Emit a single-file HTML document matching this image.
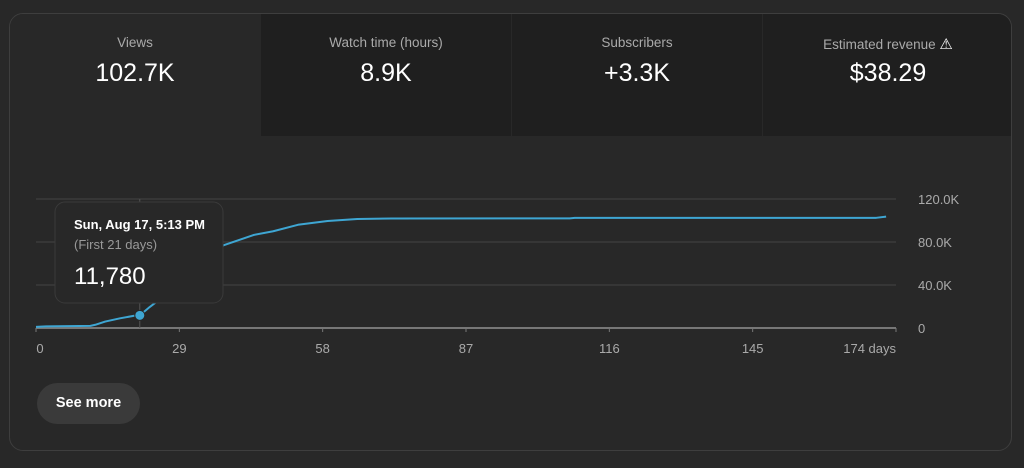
<!DOCTYPE html>
<html><head><meta charset="utf-8">
<style>
html,body{margin:0;padding:0;background:#282828;width:1024px;height:468px;overflow:hidden;font-family:"Liberation Sans",sans-serif;}
#card{position:absolute;left:9px;top:13px;width:1003px;height:438px;border:1px solid #3e3e3e;border-radius:14px;background:#282828;overflow:hidden;box-sizing:border-box;}
.tile{position:absolute;top:0;height:122px;background:#1f1f1f;text-align:center;box-sizing:border-box;}
.tile.sel{background:#282828;}
.lbl{position:absolute;top:21px;left:0;right:0;font-size:13.5px;color:#aaaaaa;}
.val{position:absolute;top:45px;left:0;right:0;font-size:25px;color:#fff;}
#btn{position:absolute;left:27px;top:369px;width:103px;height:41px;border-radius:21px;background:#3a3a3a;color:#fff;font-weight:bold;font-size:14.5px;line-height:41px;text-align:center;}
svg{position:absolute;left:0;top:0;}
</style></head><body>
<div id="card">
  <div class="tile sel" style="left:0;width:250px"><div class="lbl">Views</div><div class="val">102.7K</div></div>
  <div class="tile" style="left:251px;width:250px"><div class="lbl">Watch time (hours)</div><div class="val">8.9K</div></div>
  <div class="tile" style="left:502px;width:250px"><div class="lbl">Subscribers</div><div class="val">+3.3K</div></div>
  <div class="tile" style="left:753px;width:250px"><div class="lbl">Estimated revenue <span style="color:#fff;font-size:15px">⚠</span></div><div class="val">$38.29</div></div>
  <div id="btn">See more</div>
</div>
<svg id="chart" width="1024" height="468"></svg>
<script>
const days=[0,2,11,12,14,17,20,21,23,26,29,32,35,38,44,48,53,59,65,72,108,109,170,172];
const views=[1000,1500,2000,3000,6000,9000,11500,11780,19500,30000,45000,58000,68000,77000,86500,90000,96000,99500,101400,101900,102000,102400,102500,103600];
const yTicks=[0,40000,80000,120000];
const yLabels=["0","40.0K","80.0K","120.0K"];
const xTicks=[0,29,58,87,116,145,174];
const xLabels=["0","29","58","87","116","145","174 days"];
const hoverIndex=7;
const NS="http://www.w3.org/2000/svg";
const svg=document.getElementById('chart');
const x=d=>36+d*(860/174);
const y=v=>328-v*(129/120000);
function mk(t,a){const e=document.createElementNS(NS,t);for(const k in a)e.setAttribute(k,a[k]);svg.appendChild(e);return e;}
yTicks.forEach((v,i)=>{
  const g=mk('line',{x1:36,x2:896,y1:y(v),y2:y(v),stroke:i==0?'#777':'#3a3a3a','stroke-width':i==0?2:1.5});
  
  
  const t=mk('text',{x:918,y:y(v)+5,fill:'#aaa','font-size':13,'font-family':'Liberation Sans, sans-serif'});
  t.textContent=yLabels[i];
  
  
});
xTicks.forEach((d,i)=>{
  const tk=mk('line',{x1:x(d),x2:x(d),y1:328,y2:332,stroke:'#777','stroke-width':1});
  
  
  const t=mk('text',{x:i==0?40:(i==xTicks.length-1?896:x(d)),y:353,fill:'#aaa','font-size':13,'font-family':'Liberation Sans, sans-serif','text-anchor':i==0?'middle':(i==xTicks.length-1?'end':'middle')});
  t.textContent=xLabels[i];
  
  
});
const p=mk('polyline',{points:days.map((d,i)=>x(d)+','+y(views[i])).join(' '),fill:'none',stroke:'#3ea6d3','stroke-width':2,'stroke-linejoin':'round'});


const hx=x(days[hoverIndex]),hy=y(views[hoverIndex]);
const hl=mk('line',{x1:hx,x2:hx,y1:199,y2:328,stroke:'#555','stroke-width':1});


const dot=mk('circle',{cx:hx,cy:hy,r:5,fill:'#3ea6d3',stroke:'#282828','stroke-width':1});


const tip=mk('rect',{x:55,y:202,width:168,height:101,rx:10,fill:'#282828',stroke:'#3a3a3a','stroke-width':1});


const t1=mk('text',{x:74,y:229,fill:'#fff','font-size':13,'font-weight':'bold','font-family':'Liberation Sans, sans-serif'});
t1.textContent='Sun, Aug 17, 5:13 PM';


const t2=mk('text',{x:74,y:249,fill:'#999','font-size':13,'font-family':'Liberation Sans, sans-serif'});
t2.textContent='(First 21 days)';


const t3=mk('text',{x:74,y:284,fill:'#fff','font-size':24,'font-family':'Liberation Sans, sans-serif'});
t3.textContent=views[hoverIndex].toLocaleString('en-US');


</script>
</body></html>
